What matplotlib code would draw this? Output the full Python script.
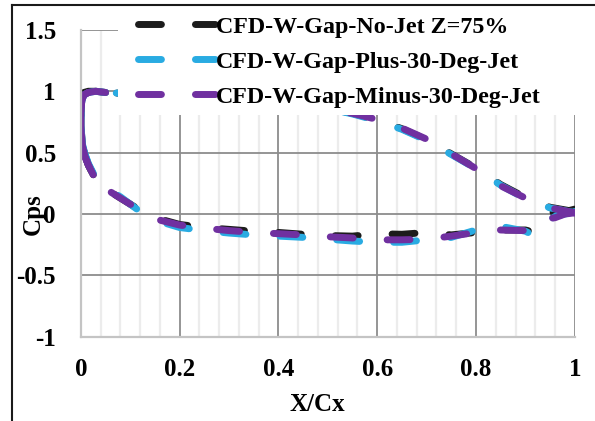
#!/usr/bin/env python
import numpy as np
import matplotlib
matplotlib.use('Agg')
import matplotlib.pyplot as plt
from matplotlib.lines import Line2D
from matplotlib.patches import Rectangle
from matplotlib.ticker import MultipleLocator

plt.rcParams['font.family'] = ['Liberation Serif', 'DejaVu Serif']
plt.rcParams['font.weight'] = 'bold'

# surface path: suction side from trailing edge to leading edge, then pressure side back
x_path = [1.0, 0.98, 0.96, 0.94, 0.93, 0.92, 0.90, 0.85, 0.80, 0.75, 0.70, 0.65,
          0.60, 0.55, 0.50, 0.45, 0.40, 0.35, 0.30, 0.25, 0.20, 0.15, 0.12, 0.10,
          0.08, 0.06, 0.04, 0.025, 0.015, 0.008, 0.003, 0.0, 0.0, 0.002, 0.006,
          0.015, 0.03, 0.05,
          0.10, 0.20, 0.30, 0.40, 0.50, 0.55, 0.60, 0.65, 0.70, 0.75, 0.80, 0.85,
          0.90, 0.95, 1.0]

cp_nojet = [0.04, 0.02, 0.03, -0.05, -0.10, -0.15, -0.13, -0.13, -0.15, -0.17, -0.15, -0.165,
            -0.16, -0.18, -0.175, -0.165, -0.15, -0.14, -0.125, -0.11, -0.085, -0.03, 0.03, 0.08,
            0.13, 0.18, 0.24, 0.32, 0.40, 0.48, 0.56, 0.72, 0.87, 0.95, 0.99,
            1.0, 1.0, 0.99,
            0.98, 0.96, 0.94, 0.91, 0.86, 0.82, 0.765, 0.695, 0.605, 0.49, 0.375, 0.24,
            0.135, 0.055, 0.02]

cp_plus30 = [0.02, 0.0, -0.02, -0.07, -0.14, -0.18, -0.14, -0.10, -0.13, -0.19, -0.21, -0.23,
             -0.23, -0.22, -0.205, -0.19, -0.18, -0.17, -0.155, -0.135, -0.11, -0.05, 0.02, 0.08,
             0.14, 0.19, 0.25, 0.33, 0.41, 0.49, 0.57, 0.72, 0.86, 0.93, 0.97,
             0.99, 1.0, 0.99,
             0.98, 0.96, 0.94, 0.91, 0.86, 0.815, 0.76, 0.69, 0.60, 0.485, 0.37, 0.235,
             0.125, 0.05, 0.01]

cp_minus30 = [0.01, 0.0, -0.03, -0.04, -0.06, -0.12, -0.135, -0.13, -0.15, -0.18, -0.205, -0.21,
              -0.21, -0.195, -0.185, -0.17, -0.16, -0.15, -0.135, -0.115, -0.09, -0.04, 0.03, 0.08,
              0.13, 0.18, 0.24, 0.32, 0.40, 0.47, 0.55, 0.70, 0.85, 0.93, 0.97,
              0.99, 1.0, 0.99,
              0.98, 0.96, 0.94, 0.91, 0.86, 0.82, 0.77, 0.70, 0.61, 0.49, 0.37, 0.23,
              0.13, 0.05, 0.01]

labels = ['CFD-W-Gap-No-Jet Z=75%', 'CFD-W-Gap-Plus-30-Deg-Jet',
          'CFD-W-Gap-Minus-30-Deg-Jet']
colors = ['#1c1c1c', '#29abe2', '#7030a0']
le = slice(27, 38)  # leading-edge points, drawn as one unbroken stroke

fig = plt.figure(figsize=(5.95, 4.21), dpi=100)
ax = fig.add_axes([0.136, 0.2, 0.830, 0.729])

for cp, lab, col in zip([cp_nojet, cp_plus30, cp_minus30], labels, colors):
    ax.plot(x_path, cp, color=col, lw=5, dashes=(3.3, 4.9),
            dash_capstyle='round', solid_capstyle='round', label=lab)
    ax.plot(x_path[le], cp[le], color=col, lw=5, solid_capstyle='round',
            solid_joinstyle='round')

ax.set_xlim(0, 1)
ax.set_ylim(-1, 1.5)
ax.xaxis.set_minor_locator(MultipleLocator(0.04))
ax.set_xticks([0, 0.2, 0.4, 0.6, 0.8, 1.0])
ax.set_xticklabels(['0', '0.2', '0.4', '0.6', '0.8', '1'])
ax.set_yticks([-1, -0.5, 0, 0.5, 1, 1.5])
ax.set_yticklabels(['-1', '-0.5', '0', '0.5', '1', '1.5'])
ax.grid(True, which='major', color='#8c8c8c', lw=1.3)
ax.grid(True, which='minor', axis='x', color='#ececec', lw=1.6)
ax.set_axisbelow(True)
ax.tick_params(which='both', length=0, labelsize=18)
ax.tick_params(axis='y', pad=18)
ax.tick_params(axis='x', pad=15)
for s in ['top', 'right']:
    ax.spines[s].set_visible(False)
for s in ['left', 'bottom']:
    ax.spines[s].set_color('#c4c4c4')
    ax.spines[s].set_linewidth(1.6)

ax.set_xlabel('X/Cx', fontsize=18, fontweight='bold')
ax.xaxis.set_label_coords(0.478, -0.182)
ax.set_ylabel('Cps', fontsize=18, fontweight='bold')
ax.yaxis.set_label_coords(-0.073, 0.40)

# white legend area
ax.add_patch(Rectangle((118 / 595, 1 - 115 / 421), 1 - 118 / 595, 115 / 421,
                       transform=fig.transFigure, facecolor='white',
                       edgecolor='none', zorder=4.5, clip_on=False))
leg = ax.legend(loc='upper left', bbox_to_anchor=(133 / 595, 1 - 11 / 421),
                bbox_transform=fig.transFigure, borderaxespad=0,
                fontsize=17.3, handlelength=3.2, handletextpad=0.05,
                labelspacing=0.55, borderpad=0.2, frameon=False)

# figure border (left and top edges visible)
fig.add_artist(Line2D([12 / 595, 12 / 595], [0, 1 - 5 / 421], color='#1a1a1a',
                      lw=1.5, transform=fig.transFigure))
fig.add_artist(Line2D([12 / 595, 1], [1 - 5 / 421, 1 - 5 / 421], color='#1a1a1a',
                      lw=1.5, transform=fig.transFigure))

fig.savefig('out.png', dpi=100)
